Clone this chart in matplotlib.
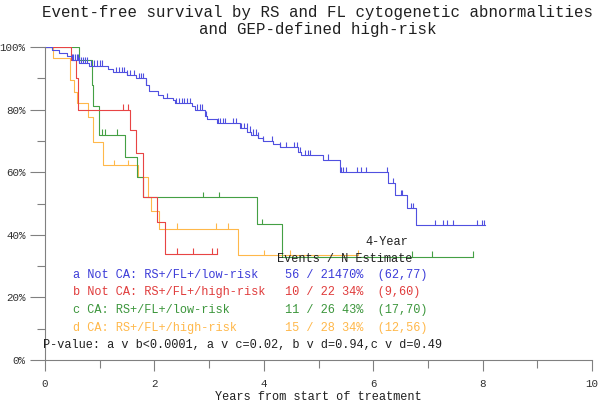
import numpy as np
import matplotlib
matplotlib.use("Agg")
import matplotlib.pyplot as plt

# ---- data ----
# step curves: event times (years) and survival (%) after each step; last time = end of follow-up
a_t = [0, 0.12, 0.25, 0.4, 0.5, 0.62, 0.8, 1.15, 1.25, 1.5, 1.66, 1.85, 1.9, 2.07, 2.16, 2.34, 2.38,
       2.69, 2.74, 2.93, 2.96, 3.14, 3.56, 3.70, 3.77, 3.9, 3.99, 4.17, 4.3, 4.62, 4.68, 5.08, 5.40,
       6.27, 6.40, 6.61, 6.79]
a_s = [100, 99, 98, 97, 96, 95, 94, 93, 92, 91, 90, 88, 86, 84.7, 83.7, 83, 82,
       81, 80, 78, 77, 75.7, 74, 73, 72, 71, 70, 69, 68, 66.5, 65.5, 64, 60,
       56.5, 52.7, 48.5, 43]
a_end = 8.04
a_cens = [0.5, 0.52, 0.55, 0.58, 0.6, 0.63, 0.66, 0.7, 0.74, 0.77, 0.85, 0.9, 0.95, 1.0, 1.05,
          1.3, 1.35, 1.4, 1.45, 1.5, 1.55, 1.62, 1.72, 1.76, 1.8, 1.85, 2.23, 2.4, 2.45, 2.5,
          2.55, 2.6, 2.65, 2.78, 2.83, 2.87, 2.94, 3.16, 3.2, 3.25, 3.29, 3.44, 3.5, 3.58, 3.63,
          3.69, 3.75, 3.8, 3.86, 3.9, 3.99, 4.15, 4.3, 4.4, 4.55, 4.6, 4.67, 4.75, 4.8, 4.85,
          5.17, 5.42, 5.45, 5.5, 5.7, 5.78, 5.87, 6.25, 6.36, 6.5, 6.53, 6.7, 6.73, 7.13, 7.28,
          7.35, 7.46, 7.9, 7.98, 8.03]

b_t = [0, 0.47, 0.56, 0.6, 1.55, 1.67, 1.80, 2.05, 2.20]
b_s = [100, 96, 90, 80, 73.5, 66, 52, 44, 34]
b_end = 3.15
b_cens = [0.24, 1.42, 1.52, 2.41, 2.71, 3.05, 3.14]

c_t = [0, 0.62, 0.86, 0.88, 0.99, 1.46, 1.68, 1.80, 3.87, 4.33]
c_s = [100, 96, 88, 81, 72, 65, 58.5, 52, 43.5, 33]
c_end = 7.83
c_cens = [0.05, 0.3, 0.5, 0.6, 1.05, 1.1, 1.32, 2.89, 3.18, 3.96, 6.71, 7.08, 7.83]

d_t = [0, 0.15, 0.45, 0.53, 0.59, 0.79, 0.88, 1.06, 1.70, 1.88, 1.94, 2.08, 3.53]
d_s = [100, 96.4, 89.3, 85.7, 82, 77.6, 69.6, 62.3, 58.5, 52, 47.6, 42, 33.5]
d_end = 5.72
d_cens = [0.1, 1.27, 1.52, 2.41, 3.13, 3.35, 4.0, 4.48, 5.72]

colors = ["#5050e0", "#e84444", "#44a044", "#ffb84a"]
text_colors = ["#3c3cd8", "#e03c3c", "#3c963c", "#ffb84a"]

labels = ["a Not CA: RS+/FL+/low-risk", "b Not CA: RS+/FL+/high-risk",
          "c CA: RS+/FL+/low-risk", "d CA: RS+/FL+/high-risk"]
stats = ["56 / 21470%  (62,77)", "10 / 22 34%  (9,60)",
         "11 / 26 43%  (17,70)", "15 / 28 34%  (12,56)"]
pval = "P-value: a v b<0.0001, a v c=0.02, b v d=0.94,c v d=0.49"
title = "Event-free survival by RS and FL cytogenetic abnormalities\nand GEP-defined high-risk"
xlabel = "Years from start of treatment"
xticks = [0, 2, 4, 6, 8, 10]
yticks = [0, 20, 40, 60, 80, 100]
ytick_labels = ["0%", "20%", "40%", "60%", "80%", "100%"]

mono = "Liberation Mono"
fig = plt.figure(figsize=(6.0, 4.03), dpi=100)
ax = fig.add_axes([45/600, 1-360/403, (592-45)/600, (360-47)/403])

def draw(t, s, end, cens, col):
    tt = list(t) + [end]
    ss = list(s) + [s[-1]]
    ax.step(tt, ss, where="post", color=col, lw=0.8)
    tarr = np.array(t)
    for c in cens:
        idx = np.searchsorted(tarr, c, side="right") - 1
        y = s[idx]
        ax.vlines(c, y, y + 1.7, color=col, lw=0.8)

draw(d_t, d_s, d_end, d_cens, colors[3])
draw(c_t, c_s, c_end, c_cens, colors[2])
draw(b_t, b_s, b_end, b_cens, colors[1])
draw(a_t, a_s, a_end, a_cens, colors[0])

ax.set_xlim(0, 10)
ax.set_ylim(0, 100)
for sp in ["top", "right"]:
    ax.spines[sp].set_visible(False)
for sp in ["left", "bottom"]:
    ax.spines[sp].set_color("#808080")
    ax.spines[sp].set_linewidth(0.8)

ax.set_xticks(xticks)
ax.set_xticks([1, 3, 5, 7, 9], minor=True)
ax.set_yticks(yticks)
ax.set_yticklabels(ytick_labels)
ax.set_yticks([10, 30, 50, 70, 90], minor=True)
ax.tick_params(axis="x", which="major", length=8, width=0.8, color="#808080", pad=6)
ax.tick_params(axis="x", which="minor", length=6, width=0.8, color="#808080")
ax.tick_params(axis="y", which="major", length=11, width=0.8, color="#808080", pad=3)
ax.tick_params(axis="y", which="minor", length=6, width=0.8, color="#808080")
for lab in ax.get_xticklabels() + ax.get_yticklabels():
    lab.set_fontfamily(mono)
    lab.set_fontsize(7.8)
    lab.set_color("#303030")

fig.text(318/600, 1-21/403, title, ha="center", va="center", family=mono,
         fontsize=11.3, linespacing=1.2, color="#202020")
fig.text(318/600, 1-397/403, xlabel, ha="center", va="center", family=mono,
         fontsize=8.6, color="#202020")

# legend block (positions in pixels)
row_y = [275, 292.5, 310, 327.5]
for i in range(4):
    fig.text(73/600, 1-row_y[i]/403, labels[i], ha="left", va="center", family=mono,
             fontsize=8.6, color=text_colors[i])
    fig.text(285/600, 1-row_y[i]/403, stats[i], ha="left", va="center", family=mono,
             fontsize=8.6, color=text_colors[i])
fig.text(365/600, 1-242/403, "4-Year", ha="left", va="center", family=mono,
         fontsize=8.6, color="#202020")
fig.text(277/600, 1-258.5/403, "Events / N Estimate", ha="left", va="center", family=mono,
         fontsize=8.6, color="#202020")
fig.text(43/600, 1-345/403, pval, ha="left", va="center", family=mono,
         fontsize=8.6, color="#202020")

fig.savefig("out.png", dpi=100)
